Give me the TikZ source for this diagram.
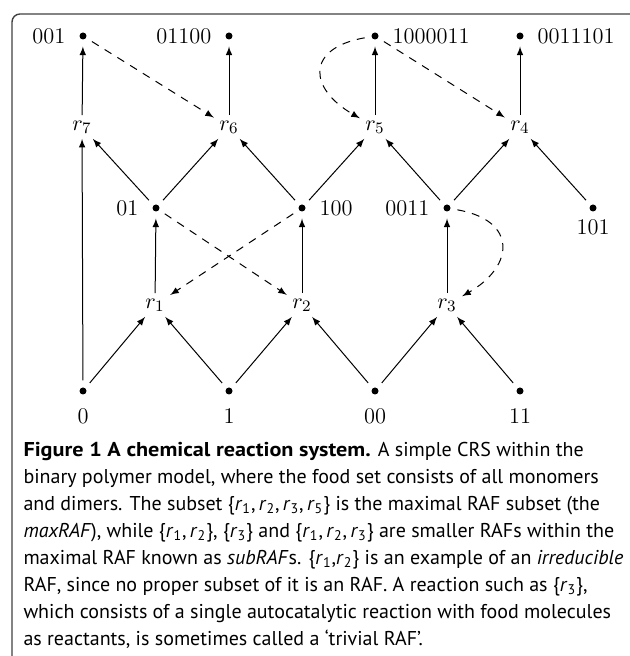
\documentclass[tikz,border=0pt]{standalone}
\usepackage{fontspec}
\setsansfont{PT Sans}
\usetikzlibrary{arrows}
\newcommand{\rsub}[1]{\textit{r}\textsubscript{#1}}
\newcommand{\capbf}[1]{{\bfseries\addfontfeature{FakeStretch=1.11}#1}}
\tikzset{
  mol/.style={circle,fill,inner sep=0pt,minimum size=3.5pt,outer sep=3.5pt},
  rxn/.style={inner sep=2.5pt},
  cat/.style={dash pattern=on 4pt off 3.5pt,-latex},
  lab/.style={label distance=-2pt},
}
\begin{document}
\begin{tikzpicture}[x=0.5pt,y=0.5pt,line width=0.5pt,font=\fontsize{11.2}{13}\selectfont]
\useasboundingbox (0,0) rectangle (629,656);
\draw[black!75,line width=0.7pt,rounded corners=4pt] (700,642)--(12,642)--(12,-20);
% molecules, top row
\node[mol,lab,label=left:001] (m001) at (83,620) {};
\node[mol,lab,label=left:01100] (m01100) at (229,620) {};
\node[mol,lab,label=right:1000011] (m1000011) at (375,620) {};
\node[mol,lab,label=right:0011101] (m0011101) at (520,620) {};
% reactions
\node[rxn] (r7) at (82,529) {$r_7$};
\node[rxn] (r6) at (229,529) {$r_6$};
\node[rxn] (r5) at (375,529) {$r_5$};
\node[rxn] (r4) at (520,529) {$r_4$};
% molecules, middle row
\node[mol,lab,label=left:01] (m01) at (156,448) {};
\node[mol,lab,label=right:100] (m100) at (302,448) {};
\node[mol,lab,label=left:0011] (m0011) at (447,448) {};
\node[mol,label={[label distance=-3pt]below:101}] (m101) at (593,448) {};
\node[rxn] (r1) at (155,351) {$r_1$};
\node[rxn] (r2) at (302,351) {$r_2$};
\node[rxn] (r3) at (447,351) {$r_3$};
% food set
\node[mol,label=below:0] (m0) at (83,265) {};
\node[mol,label=below:1] (m1) at (229,265) {};
\node[mol,label=below:00] (m00) at (375,265) {};
\node[mol,label=below:11] (m11) at (520,265) {};
% reactants and products
\draw[-latex](m0)--(r1);
\draw[-latex](m1)--(r1);
\draw[-latex](m1)--(r2);
\draw[-latex](m00)--(r2);
\draw[-latex](m00)--(r3);
\draw[-latex](m11)--(r3);
\draw[-latex](r1)--(m01);
\draw[-latex](r2)--(m100);
\draw[-latex](r3)--(m0011);
\draw[-latex](m0)--(r7);
\draw[-latex](m01)--(r7);
\draw[-latex](m01)--(r6);
\draw[-latex](m100)--(r6);
\draw[-latex](m100)--(r5);
\draw[-latex](m0011)--(r5);
\draw[-latex](m0011)--(r4);
\draw[-latex](m101)--(r4);
\draw[-latex](r7)--(m001);
\draw[-latex](r6)--(m01100);
\draw[-latex](r5)--(m1000011);
\draw[-latex](r4)--(m0011101);
% catalysis
\draw[cat](m001)--(r6);
\draw[cat](m1000011)--(r4);
\draw[cat](m01)--(r2);
\draw[cat](m100)--(r1);
\draw[cat](m1000011) to[out=190,in=150,looseness=1.9] (r5);
\draw[cat](m0011) to[out=-10,in=30,looseness=1.8] (r3);
% caption
\node[anchor=north west,align=left,inner sep=0pt,font=\sffamily\fontsize{10}{13.5}\selectfont] (cap) at (23,214) {%
\capbf{Figure 1 A chemical reaction system.} A simple CRS within the\\
binary polymer model, where the food set consists of all monomers\\
and dimers. The subset \{\rsub{1},\,\rsub{2},\,\rsub{3},\,\rsub{5}\} is the maximal RAF subset (the\\
\textit{maxRAF}), while \{\rsub{1},\,\rsub{2}\}, \{\rsub{3}\} and \{\rsub{1},\,\rsub{2},\,\rsub{3}\} are smaller RAFs within the\\
maximal RAF known as \textit{subRAF}s. \{\rsub{1},\rsub{2}\} is an example of an \textit{irreducible}\\
RAF, since no proper subset of it is an RAF. A reaction such as \{\rsub{3}\},\\
which consists of a single autocatalytic reaction with food molecules\\
as reactants, is sometimes called a ‘trivial RAF’.};
\end{tikzpicture}
\end{document}
